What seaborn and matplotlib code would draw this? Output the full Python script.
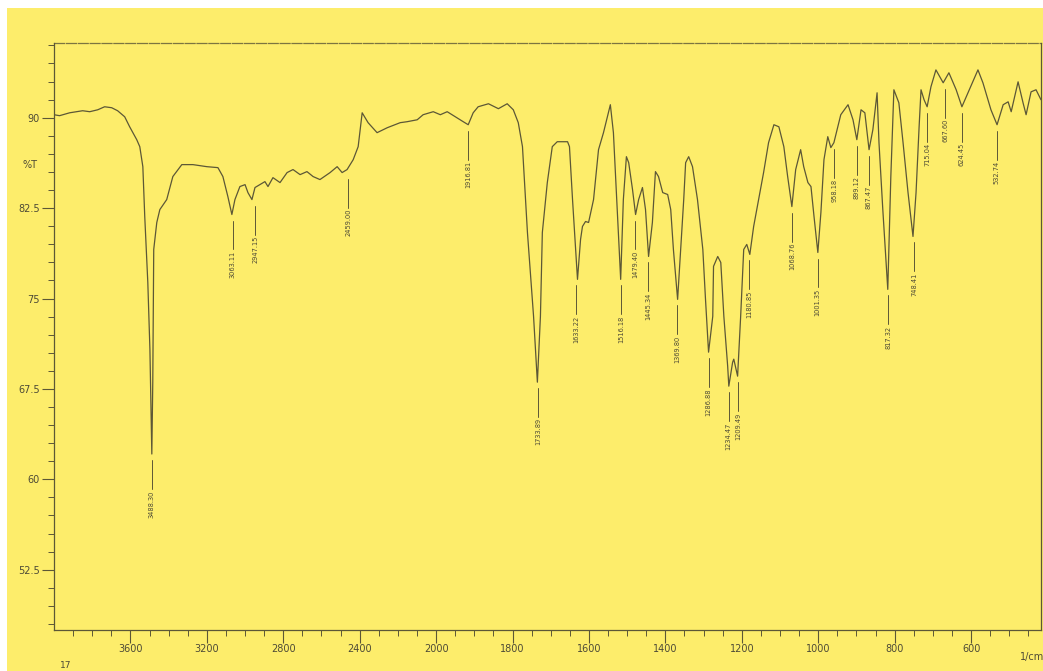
import numpy as np
import pandas as pd
import seaborn as sns
import matplotlib
matplotlib.use("Agg")
import matplotlib.pyplot as plt
from matplotlib.patches import Rectangle
from matplotlib.ticker import FixedLocator, MultipleLocator

# 透过率曲线（波数 cm-1，%T）
wavenumber = [4000, 3971, 3918, 3881, 3850, 3813, 3771, 3735, 3698, 3667, 3630, 3604, 3567, 3551, 3535,
              3525, 3509, 3498, 3488, 3483, 3478, 3462, 3446, 3410, 3378, 3331, 3273, 3200, 3142, 3116,
              3090, 3069, 3053, 3027, 3000, 2985, 2964, 2948, 2922, 2896, 2880, 2854, 2817, 2780, 2749,
              2712, 2676, 2644, 2608, 2555, 2518, 2492, 2466, 2434, 2408, 2387, 2356, 2309, 2256, 2188,
              2152, 2099, 2068, 2015, 1989, 1971, 1950, 1929, 1916, 1903, 1890, 1863, 1837, 1814, 1798,
              1785, 1774, 1761, 1745, 1735, 1727, 1722, 1709, 1696, 1683, 1656, 1651, 1643, 1635, 1630,
              1622, 1617, 1609, 1601, 1588, 1575, 1562, 1544, 1536, 1525, 1517, 1510, 1502, 1496, 1486,
              1478, 1470, 1460, 1452, 1444, 1434, 1426, 1418, 1407, 1394, 1386, 1379, 1368, 1360, 1352,
              1347, 1339, 1329, 1316, 1302, 1295, 1287, 1276, 1274, 1263, 1255, 1247, 1237, 1234, 1224,
              1221, 1211, 1203, 1195, 1187, 1179, 1169, 1156, 1143, 1130, 1116, 1103, 1090, 1080, 1069,
              1059, 1046, 1038, 1027, 1019, 1011, 1001, 993, 985, 975, 967, 959, 941, 922, 909,
              899, 888, 878, 867, 857, 846, 841, 831, 818, 810, 802, 789, 778, 765, 752,
              744, 736, 731, 723, 715, 705, 692, 673, 658, 639, 624, 608, 582, 569, 548,
              532, 516, 503, 495, 477, 464, 456, 443, 430, 417]
transmittance = [90.25, 90.17, 90.41, 90.50, 90.58, 90.50, 90.66, 90.91, 90.83, 90.58, 90.08, 89.25, 88.18, 87.60, 85.94,
                 81.80, 76.34, 70.79, 62.10, 68.06, 79.07, 81.31, 82.38, 83.21, 85.12, 86.11, 86.11, 85.94, 85.86, 85.12,
                 83.46, 81.97, 83.21, 84.29, 84.45, 83.79, 83.21, 84.21, 84.45, 84.70, 84.29, 85.03, 84.62, 85.45, 85.70,
                 85.28, 85.53, 85.12, 84.87, 85.45, 85.94, 85.45, 85.70, 86.52, 87.60, 90.41, 89.59, 88.76, 89.17, 89.59,
                 89.67, 89.83, 90.25, 90.50, 90.25, 90.50, 90.08, 89.67, 89.42, 90.41, 90.91, 91.16, 90.75, 91.16, 90.66,
                 89.59, 87.60, 80.48, 73.53, 68.06, 73.53, 80.48, 84.62, 87.60, 88.01, 88.01, 87.60, 83.21, 79.07, 76.59,
                 79.90, 80.98, 81.39, 81.31, 83.21, 87.35, 88.76, 91.08, 88.76, 81.80, 76.59, 83.21, 86.77, 86.27, 84.04,
                 81.97, 83.21, 84.21, 82.38, 78.49, 81.31, 85.53, 85.12, 83.79, 83.63, 82.38, 79.07, 74.93, 79.07, 83.21,
                 86.27, 86.77, 85.94, 83.21, 79.07, 74.93, 70.55, 73.53, 77.67, 78.49, 77.99, 73.53, 69.39, 67.73, 69.72,
                 69.97, 68.56, 73.53, 79.07, 79.49, 78.66, 80.98, 83.21, 85.45, 87.93, 89.42, 89.25, 87.60, 85.12, 82.63,
                 85.70, 87.35, 85.94, 84.62, 84.29, 81.80, 78.82, 82.14, 86.52, 88.43, 87.52, 87.93, 90.25, 91.08, 89.83,
                 88.18, 90.66, 90.41, 87.35, 89.01, 92.07, 87.93, 82.38, 75.76, 85.12, 92.32, 91.24, 87.93, 83.79, 80.15,
                 83.79, 89.25, 92.32, 91.49, 90.91, 92.57, 93.97, 92.90, 93.73, 92.32, 90.91, 92.07, 93.97, 92.90, 90.66,
                 89.42, 91.08, 91.32, 90.50, 92.98, 91.24, 90.25, 92.15, 92.32, 91.49]

# 峰标注
peak_wn = [3488.30, 3063.11, 2947.15, 2459.00, 1916.81, 1733.89, 1633.22, 1516.18, 1479.40, 1445.34,
           1369.80, 1286.88, 1234.47, 1209.49, 1180.85, 1068.76, 1001.35, 958.18, 899.12, 867.47,
           817.32, 748.41, 715.04, 667.60, 624.45, 532.74]
peak_T = [62.10, 81.97, 83.21, 85.45, 89.42, 68.06, 76.59, 76.59, 81.97, 78.49,
          74.93, 70.55, 67.73, 68.56, 78.66, 82.63, 78.82, 87.93, 88.18, 87.35,
          75.76, 80.15, 90.91, 92.90, 90.91, 89.42]

x_major = [3600, 3200, 2800, 2400, 2000, 1800, 1600, 1400, 1200, 1000, 800, 600]
y_major = [52.5, 60, 67.5, 75, 82.5, 90]

paper = "#fded6b"
ink = "#5c5736"
txt = "#4d4a36"

sns.set_style("ticks")
plt.rcParams['font.family'] = ['DejaVu Sans']

fig = plt.figure(figsize=(10.43, 6.71), dpi=100)
fig.patch.set_facecolor("white")
fig.patches.append(Rectangle((7 / 1043, 0), 1, 1 - 8 / 671, transform=fig.transFigure,
                             facecolor=paper, edgecolor="none", zorder=-10))

ax = fig.add_axes([54 / 1043, 41 / 671, (1041 - 54) / 1043, (630 - 43) / 671])
ax.set_facecolor(paper)

df = pd.DataFrame({"wavenumber": wavenumber, "T": transmittance})
sns.lineplot(data=df, x="wavenumber", y="T", sort=False, estimator=None,
             color=ink, lw=0.9, ax=ax)

# 2000 以上半比例
def fwd(w):
    w = np.asarray(w, dtype=float)
    return np.where(w > 2000, 2000 + (w - 2000) / 2, w)

def inv(f):
    f = np.asarray(f, dtype=float)
    return np.where(f > 2000, 2000 + 2 * (f - 2000), f)

ax.set_xscale("function", functions=(fwd, inv))
ax.set_xlim(4000, 417)
ax.set_ylim(47.5, 96.2)

for w, t in zip(peak_wn, peak_T):
    ax.plot([w, w], [t - 0.5, t - 2.9], color=ink, lw=0.7)
    ax.text(w, t - 3.0, f"{w:.2f}", rotation=90, ha="center", va="top",
            fontsize=4.8, color=txt)

ax.xaxis.set_major_locator(FixedLocator(x_major))
minor_x = list(range(3900, 2000, -100)) + list(range(1950, 400, -50))
ax.xaxis.set_minor_locator(FixedLocator([m for m in minor_x if m not in x_major]))
ax.set_xticklabels([str(v) for v in x_major])
ax.yaxis.set_major_locator(FixedLocator(y_major))
ax.yaxis.set_minor_locator(MultipleLocator(1.5))
ax.set_yticklabels(["90" if v == 90 else ("%g" % v) for v in y_major])

ax.tick_params(axis="both", which="major", direction="out", length=9, width=0.8,
               color=ink, labelcolor=txt, labelsize=7, pad=1)
ax.tick_params(axis="both", which="minor", direction="out", length=4.5, width=0.7, color=ink)
ax.set_xlabel("")
ax.set_ylabel("")
for s in ax.spines.values():
    s.set_visible(True)
    s.set_color(ink)
    s.set_linewidth(0.9)
ax.spines["top"].set_linestyle((0, (8, 1.5)))
ax.spines["top"].set_alpha(0.8)

fig.text(30 / 1043, 1 - 165 / 671, "%T", ha="center", va="center", fontsize=7, color=txt)
fig.text(1032 / 1043, 1 - 657 / 671, "1/cm", ha="center", va="center", fontsize=7, color=txt)
fig.text(66 / 1043, 1 - 665 / 671, "17", ha="center", va="center", fontsize=6.5, color=txt)

fig.savefig("out.png", dpi=100, facecolor=fig.get_facecolor())
